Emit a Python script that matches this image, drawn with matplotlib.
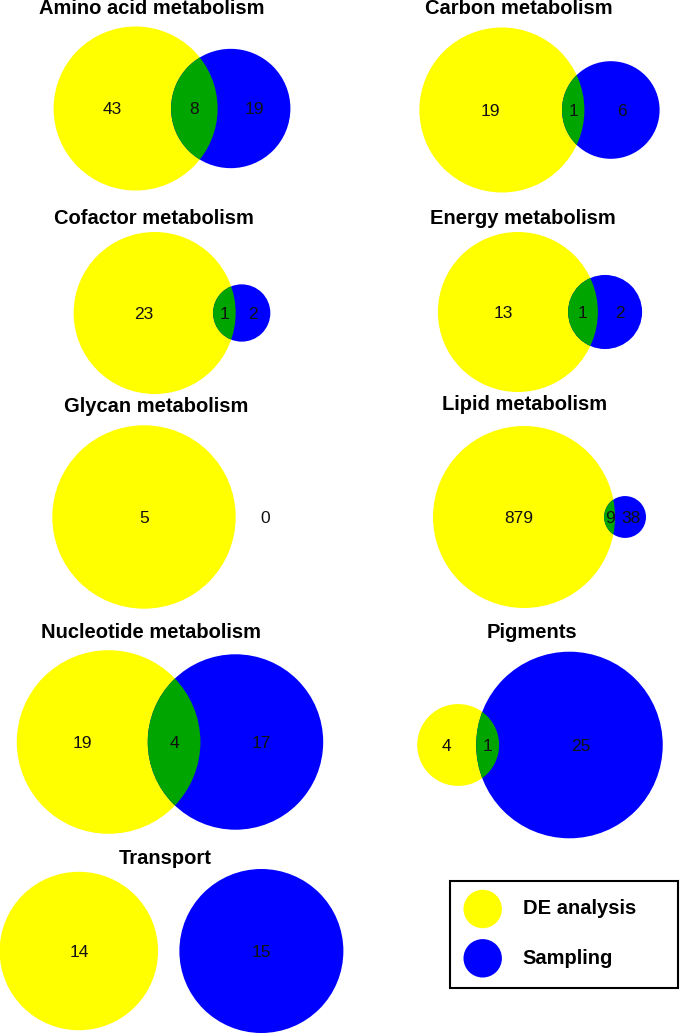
import numpy as np
import matplotlib
matplotlib.use('Agg')
import matplotlib.pyplot as plt
from matplotlib.patches import Circle, Rectangle

titles = ['Amino acid metabolism', 'Carbon metabolism', 'Cofactor metabolism',
          'Energy metabolism', 'Glycan metabolism', 'Lipid metabolism',
          'Nucleotide metabolism', 'Pigments', 'Transport']
de_only = [43, 19, 23, 13, 5, 879, 19, 4, 14]
both = [8, 1, 1, 1, 0, 9, 4, 1, 0]
sampling_only = [19, 6, 2, 2, 0, 38, 17, 25, 15]
series = ['DE analysis', 'Sampling']
colors = ['#ffff00', '#0000ff']
green = '#00a500'

# layout in pixels: diagram centre x, centre y, radius of the bigger circle
layout = [(172, 108.5, 82), (539.5, 110, 82.5), (172, 313, 81), (540, 312, 80),
          (144, 517, 91.7), (539.5, 517, 91), (170, 742, 91.8), (540, 745, 93.3),
          (171.5, 951, 82)]
title_pos = [(152, 9), (519, 9), (154, 218), (523, 218), (156, 406),
             (525, 405), (151, 633), (532, 632), (165, 858)]
gap = 0.26        # spacing between disjoint circles, in bigger radii
zero_off = 0.32   # where an empty set's label goes, beyond the first circle

fonts = ['Liberation Sans', 'DejaVu Sans']


def lens_area(r1, r2, d):
    if d >= r1 + r2:
        return 0.0
    if d <= abs(r1 - r2):
        return np.pi * min(r1, r2) ** 2
    a1 = r1 ** 2 * np.arccos((d * d + r1 * r1 - r2 * r2) / (2 * d * r1))
    a2 = r2 ** 2 * np.arccos((d * d + r2 * r2 - r1 * r1) / (2 * d * r2))
    k = 0.5 * np.sqrt((-d + r1 + r2) * (d + r1 - r2) * (d - r1 + r2) * (d + r1 + r2))
    return a1 + a2 - k


def centre_distance(r1, r2, ab):
    lo, hi = abs(r1 - r2), r1 + r2
    for _ in range(100):
        mid = (lo + hi) / 2
        if lens_area(r1, r2, mid) > ab:
            lo = mid
        else:
            hi = mid
    return (lo + hi) / 2


fig = plt.figure(figsize=(6.8, 10.35), dpi=100)
ax = fig.add_axes([0, 0, 1, 1])
ax.set_xlim(0, 680)
ax.set_ylim(1035, 0)
ax.axis('off')

for i in range(len(titles)):
    a, ab, b = de_only[i], both[i], sampling_only[i]
    r1 = np.sqrt((a + ab) / np.pi)
    r2 = np.sqrt((b + ab) / np.pi)
    big = max(r1, r2)
    if ab > 0:
        d = centre_distance(r1, r2, ab)
    elif r2 > 0:
        d = r1 + r2 + gap * big
    else:
        d = r1 + zero_off * big
    left = min(-r1, d - r2) if r2 > 0 else -r1
    right = max(r1, d + r2) if r2 > 0 else r1

    cx, cy, R = layout[i]
    s = R / big
    ox = cx - s * (left + right) / 2
    x1 = ox
    x2 = ox + s * d

    yc = Circle((x1, cy), s * r1, facecolor=colors[0], edgecolor='none', lw=0)
    ax.add_patch(yc)
    if r2 > 0:
        ax.add_patch(Circle((x2, cy), s * r2, facecolor=colors[1], edgecolor='none', lw=0))
    if ab > 0:
        lens = Circle((x2, cy), s * r2, facecolor=green, edgecolor='none', lw=0)
        ax.add_patch(lens)
        lens.set_clip_path(yc)
        la = ox + s * (-r1 + d - r2) / 2
        lab = ox + s * (d - r2 + r1) / 2
        lb = ox + s * (r1 + d + r2) / 2
        labels = [(la, a), (lab, ab), (lb, b)]
    else:
        labels = [(x1, a), (x2, b)]
    for lx, v in labels:
        ax.text(lx, cy + 1.5, str(v), ha='center', va='center', fontsize=12.5,
                family=fonts, color='#111111')

    tx, ty = title_pos[i]
    ax.text(tx, ty, titles[i], ha='center', va='center', fontsize=14.5,
            fontweight='bold', family=fonts)

# legend box
ax.add_patch(Rectangle((450, 881), 228, 107, facecolor='white', edgecolor='black', lw=1.5))
for k, name in enumerate(series):
    ly = 909 + k * 49.3
    ax.add_patch(Circle((482.7, ly), 19.2, facecolor=colors[k], edgecolor='none', lw=0))
    ax.text(522.7, ly, name, ha='left', va='center', fontsize=14.5,
            fontweight='bold', family=fonts)

fig.savefig('out.png', dpi=100)
